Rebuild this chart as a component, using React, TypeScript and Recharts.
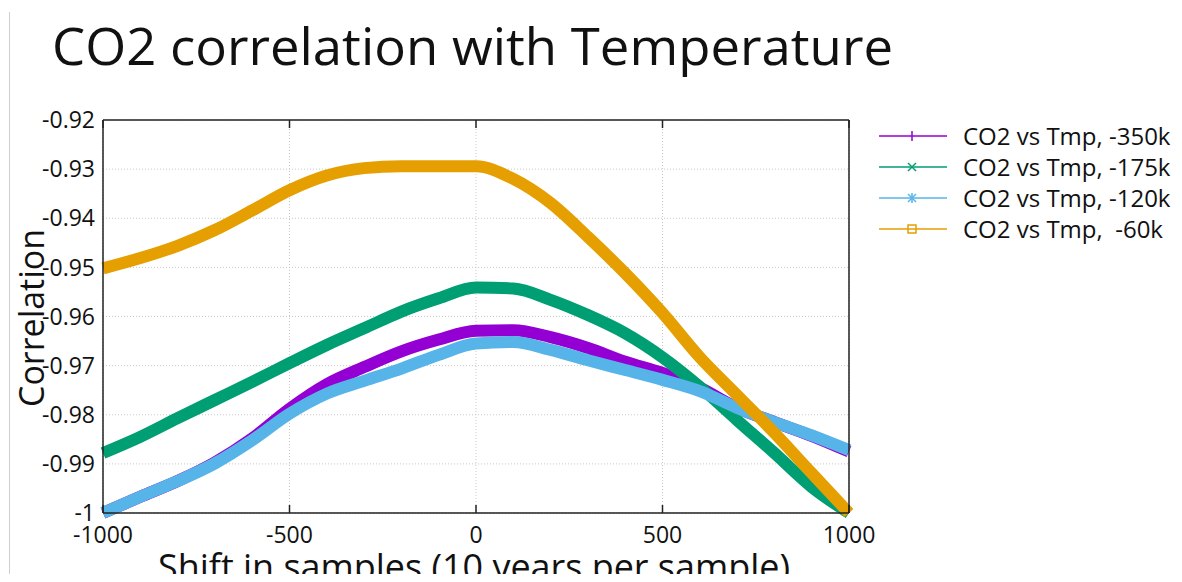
import { LineChart, Line, XAxis, YAxis, CartesianGrid } from "recharts"

// shift in samples (10 years per sample)
const shift = [-1000, -900, -800, -700, -600, -500, -400, -300, -200, -100, 0, 100, 200, 300, 400, 500, 600, 700, 800, 900, 1000]

const tmp350k = [-1.0, -0.9967, -0.9935, -0.9897, -0.9848, -0.9788, -0.9738, -0.9703, -0.9671, -0.9647, -0.9629, -0.9628, -0.9642, -0.9664, -0.9692, -0.9715, -0.9745, -0.9786, -0.9815, -0.9843, -0.9875]
const tmp175k = [-0.9878, -0.9845, -0.9807, -0.977, -0.9733, -0.9695, -0.9658, -0.9624, -0.959, -0.9563, -0.9541, -0.9543, -0.9566, -0.9597, -0.9634, -0.9683, -0.9743, -0.9811, -0.9878, -0.9947, -1.0]
const tmp120k = [-1.0, -0.9967, -0.9935, -0.9899, -0.9852, -0.9798, -0.9757, -0.9731, -0.9706, -0.9678, -0.9655, -0.9652, -0.9668, -0.9689, -0.9709, -0.9729, -0.9752, -0.9786, -0.9815, -0.9842, -0.9872]
const tmp60k = [-0.9502, -0.9481, -0.9456, -0.9424, -0.9384, -0.9343, -0.9313, -0.9298, -0.9294, -0.9294, -0.9294, -0.932, -0.9369, -0.9438, -0.9512, -0.9593, -0.9683, -0.976, -0.9837, -0.9919, -1.0]

const seriesKeys = ["tmp350k", "tmp175k", "tmp120k", "tmp60k"]
const seriesNames = ["CO2 vs Tmp, -350k", "CO2 vs Tmp, -175k", "CO2 vs Tmp, -120k", "CO2 vs Tmp,  -60k"]
const colors = ["#9400d3", "#009e73", "#56b4e9", "#e69f00"]

const xTicks = [-1000, -500, 0, 500, 1000]
const yTicks = [-1, -0.99, -0.98, -0.97, -0.96, -0.95, -0.94, -0.93, -0.92]

const rows = shift.map((s, i) => ({
  shift: s,
  tmp350k: tmp350k[i],
  tmp175k: tmp175k[i],
  tmp120k: tmp120k[i],
  tmp60k: tmp60k[i],
}))

const font = "'Open Sans', sans-serif"
const axisColor = "#222"
const noLabel = () => <g />

function Marker({ i, color }: { i: number; color: string }) {
  const cx = 35
  const cy = 10
  if (i === 0) {
    return <line x1={cx} x2={cx} y1={cy - 5} y2={cy + 5} stroke={color} strokeWidth={1.5} />
  }
  if (i === 1) {
    return (
      <g stroke={color} strokeWidth={1.5}>
        <line x1={cx - 4} x2={cx + 4} y1={cy - 4} y2={cy + 4} />
        <line x1={cx - 4} x2={cx + 4} y1={cy + 4} y2={cy - 4} />
      </g>
    )
  }
  if (i === 2) {
    return (
      <g stroke={color} strokeWidth={1.5}>
        <line x1={cx - 4} x2={cx + 4} y1={cy - 4} y2={cy + 4} />
        <line x1={cx - 4} x2={cx + 4} y1={cy + 4} y2={cy - 4} />
        <line x1={cx} x2={cx} y1={cy - 5} y2={cy + 5} />
      </g>
    )
  }
  return <rect x={cx - 4} y={cy - 4} width={8} height={8} fill="none" stroke={color} strokeWidth={1.5} />
}

function LegendBox() {
  return (
    <div style={{ position: "absolute", left: 877, top: 120, fontFamily: font, fontSize: 24, color: "#111" }}>
      {seriesNames.map((name, i) => (
        <div key={name} style={{ display: "flex", alignItems: "center", height: 31 }}>
          <svg width={86} height={20}>
            <line x1={2} x2={70} y1={10} y2={10} stroke={colors[i]} strokeWidth={1.5} />
            <Marker i={i} color={colors[i]} />
          </svg>
          <span style={{ whiteSpace: "pre", lineHeight: "31px" }}>{name}</span>
        </div>
      ))}
    </div>
  )
}

export default function App() {
  return (
    <div style={{ margin: -8, width: 1182, height: 582, position: "relative", overflow: "hidden", background: "#fff" }}>
      <LineChart width={1182} height={582} data={rows} margin={{ top: 120, right: 333, bottom: 0, left: 0 }}>
        <CartesianGrid xAxisId="x" yAxisId="y" stroke="#c8c8c8" strokeDasharray="1 2" />
        <XAxis
          xAxisId="x"
          dataKey="shift"
          type="number"
          domain={[-1000, 1000]}
          ticks={xTicks}
          interval={0}
          height={69}
          tickLine={false}
          tickSize={0}
          tickMargin={14}
          axisLine={{ stroke: axisColor, strokeWidth: 1.5 }}
          tick={{ fill: "#111", fontSize: 23, fontFamily: font }}
        />
        <XAxis
          xAxisId="xb"
          dataKey="shift"
          type="number"
          domain={[-1000, 1000]}
          ticks={xTicks}
          interval={0}
          mirror
          height={30}
          tick={noLabel}
          tickSize={8}
          tickLine={{ stroke: axisColor, strokeWidth: 1.5 }}
          axisLine={false}
        />
        <XAxis
          xAxisId="xt"
          orientation="top"
          dataKey="shift"
          type="number"
          domain={[-1000, 1000]}
          ticks={xTicks}
          interval={0}
          mirror
          height={30}
          tick={noLabel}
          tickSize={8}
          tickLine={{ stroke: axisColor, strokeWidth: 1.5 }}
          axisLine={{ stroke: axisColor, strokeWidth: 1.5 }}
        />
        <YAxis
          yAxisId="y"
          type="number"
          domain={[-1, -0.92]}
          ticks={yTicks}
          interval={0}
          width={103}
          tickLine={false}
          tickSize={0}
          tickMargin={8}
          axisLine={{ stroke: axisColor, strokeWidth: 1.5 }}
          tick={{ fill: "#111", fontSize: 23, fontFamily: font }}
        />
        <YAxis
          yAxisId="yl"
          type="number"
          domain={[-1, -0.92]}
          ticks={yTicks}
          interval={0}
          mirror
          width={30}
          tick={noLabel}
          tickSize={8}
          tickLine={{ stroke: axisColor, strokeWidth: 1.5 }}
          axisLine={false}
        />
        <YAxis
          yAxisId="yr"
          orientation="right"
          type="number"
          domain={[-1, -0.92]}
          ticks={yTicks}
          interval={0}
          mirror
          width={30}
          tick={noLabel}
          tickSize={8}
          tickLine={{ stroke: axisColor, strokeWidth: 1.5 }}
          axisLine={{ stroke: axisColor, strokeWidth: 1.5 }}
        />
        {seriesKeys.map((k, i) => (
          <Line
            key={k}
            xAxisId="x"
            yAxisId="y"
            dataKey={k}
            name={seriesNames[i]}
            type="monotone"
            stroke={colors[i]}
            strokeWidth={12}
            dot={false}
            isAnimationActive={false}
          />
        ))}
      </LineChart>
      <LegendBox />
      <svg width={1182} height={582} style={{ position: "absolute", left: 0, top: 0, pointerEvents: "none" }}>
        <line x1={9.5} x2={9.5} y1={12} y2={582} stroke="#cfcfcf" strokeWidth={1} />
        <text x={52} y={65} fontFamily={font} fontSize={52} fill="#111" textLength={841} lengthAdjust="spacingAndGlyphs">
          CO2 correlation with Temperature
        </text>
        <text x={158} y={580} fontFamily={font} fontSize={36} fill="#111" textLength={632} lengthAdjust="spacingAndGlyphs">
          Shift in samples (10 years per sample)
        </text>
        <text
          x={0}
          y={0}
          transform="translate(44,318) rotate(-90)"
          textAnchor="middle"
          fontFamily={font}
          fontSize={34}
          fill="#111"
          textLength={178}
          lengthAdjust="spacingAndGlyphs"
        >
          Correlation
        </text>
      </svg>
    </div>
  )
}
